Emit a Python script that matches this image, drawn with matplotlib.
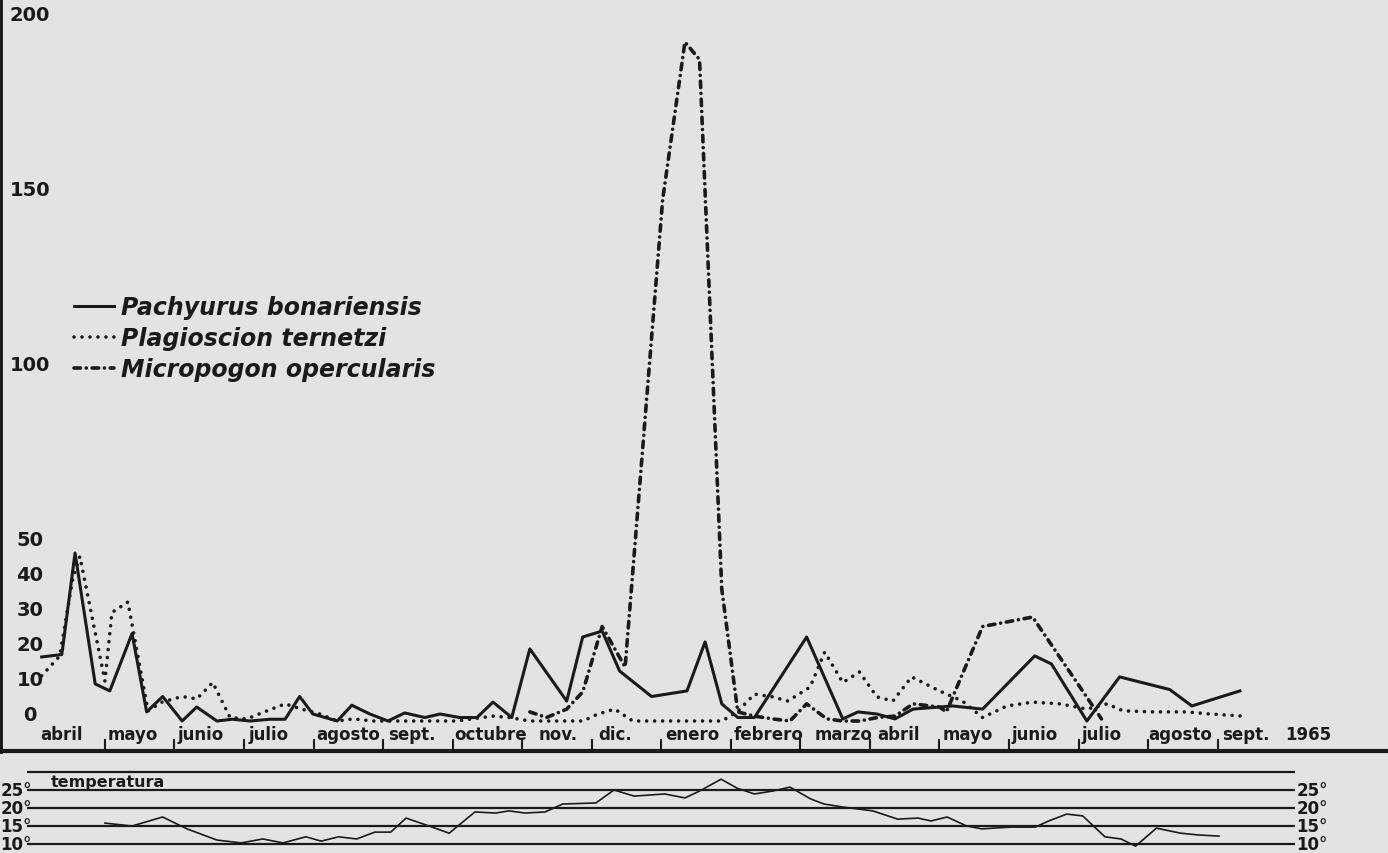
import matplotlib.pyplot as plt
from matplotlib.lines import Line2D

# eje x en meses contados desde el 1 de abril de 1964
meses = ['abril', 'mayo', 'junio', 'julio', 'agosto', 'sept.', 'octubre', 'nov.',
         'dic.', 'enero', 'febrero', 'marzo', 'abril', 'mayo', 'junio', 'julio',
         'agosto', 'sept.']
anio_final = '1965'

# Pachyurus bonariensis (linea llena)
pachy_mes = [0.09, 0.38, 0.57, 0.86, 1.07, 1.39, 1.60, 1.83, 2.11, 2.32, 2.61, 2.83,
             3.09, 3.37, 3.59, 3.80, 3.99, 4.34, 4.55, 4.81, 5.07, 5.31, 5.60, 5.82,
             6.10, 6.35, 6.58, 6.85, 7.11, 7.64, 7.87, 8.15, 8.40, 8.86, 9.37, 9.63,
             9.87, 10.10, 10.34, 11.09, 11.61, 11.83, 12.10, 12.36, 12.62, 13.19,
             13.62, 14.37, 14.61, 15.12, 15.59, 16.31, 16.63, 17.32]
pachy_val = [18.3, 19, 48, 10.6, 8.6, 25, 2.6, 7, 0, 4, 0, 0.5,
             0, 0.5, 0.5, 7, 2, 0, 4.5, 2, 0, 2.3, 1, 2,
             1, 1, 5.4, 1, 20.6, 5.7, 24, 25.7, 14.3, 7, 8.6, 22.6,
             4.9, 1, 1, 24, 0.6, 2.6, 2, 0.6, 3.4, 4.3,
             3.4, 18.6, 16.3, 0, 12.6, 9, 4.3, 8.6]

# Plagioscion ternetzi (punteada)
plagio_mes = [0.09, 0.35, 0.54, 0.64, 1.00, 1.10, 1.33, 1.62, 1.82, 2.11, 2.32, 2.55,
              2.80, 3.04, 3.33, 3.59, 3.83, 4.09, 4.34, 4.57, 4.85, 5.10, 5.43, 5.72,
              6.06, 6.58, 6.82, 7.11, 7.35, 7.87, 8.09, 8.33, 8.59, 8.98, 9.45, 9.87,
              10.09, 10.34, 10.60, 10.82, 11.14, 11.35, 11.61, 11.85, 12.10, 12.33,
              12.60, 13.00, 13.33, 13.62, 13.97, 14.34, 14.73, 15.12, 15.41, 15.64,
              16.07, 16.56, 16.89, 17.36]
plagio_val = [12.9, 18.6, 41, 47, 11.4, 31, 34, 2.9, 5.4, 7, 6.3, 11,
              1, 0.6, 2.9, 4.9, 3.4, 2, 0, 0.6, 0, 0, 0, 0,
              0, 1.4, 1, 0, 0, 0, 2, 3.4, 0, 0, 0, 0,
              2.6, 7.7, 6.9, 5.7, 9.7, 19.7, 11, 14, 6.9, 5.7,
              12.6, 8.6, 5.7, 1, 4.3, 5.4, 4.9, 3.4, 4.9, 2.9,
              2.6, 2.6, 2, 1.4]

# Micropogon opercularis (punto y raya)
micro_mes = [7.11, 7.35, 7.64, 7.87, 8.15, 8.48, 9.02, 9.34, 9.55, 9.87, 10.10,
             10.34, 10.60, 10.85, 11.09, 11.38, 11.61, 11.85, 12.11, 12.36, 12.62,
             13.00, 13.10, 13.62, 14.34, 15.33]
micro_val = [2.6, 1, 3.4, 8.3, 27, 15.4, 149, 194, 189, 37.7, 2.6,
             1.4, 0.6, 0, 4.9, 0.6, 0, 0, 1, 1.4, 4.9,
             4, 2.6, 27, 29.7, 0.6]

# temperatura del agua
temp_mes = [1.00, 1.39, 1.83, 2.18, 2.61, 2.96, 3.27, 3.56, 3.89, 4.11, 4.36, 4.62,
            4.88, 5.11, 5.33, 5.66, 5.95, 6.32, 6.62, 6.81, 7.04, 7.33, 7.58, 8.06,
            8.32, 8.61, 9.05, 9.34, 9.55, 9.86, 10.09, 10.34, 10.60, 10.85, 11.15,
            11.34, 11.60, 12.04, 12.40, 12.69, 12.88, 13.11, 13.39, 13.61, 14.03,
            14.38, 14.57, 14.83, 15.06, 15.38, 15.61, 15.82, 16.12, 16.47, 16.73, 17.02]
temp_val = [15.8, 15, 17.5, 14.2, 11.1, 10.3, 11.4, 10.3, 12, 10.8, 12, 11.4,
            13.3, 13.3, 17.2, 15, 13, 18.9, 18.6, 19.2, 18.6, 18.9, 21.1, 21.4,
            25, 23.3, 23.9, 22.8, 24.7, 28, 25.5, 23.9, 24.7, 25.8, 22.5,
            21.1, 20.3, 19.2, 16.9, 17.2, 16.4, 17.5, 15, 14.2, 14.7,
            14.7, 16.4, 18.3, 17.8, 12, 11.4, 9.4, 14.4, 13, 12.5, 12.2]

y_ticks = [0, 10, 20, 30, 40, 50, 100, 150, 200]
temp_lineas = [10, 15, 20, 25, 30]
temp_etiquetas = [10, 15, 20, 25]

especies = ['Pachyurus bonariensis', 'Plagioscion ternetzi', 'Micropogon opercularis']

# desplazamiento de cada nombre de mes respecto a su marca (en meses)
desplaz = [0.07, 0.04, 0.04, 0.07, 0.04, 0.07, 0.03, 0.23, 0.1, 0.06, 0.04, 0.2,
           0.1, 0.04, 0.04, 0.04, 0.0, 0.06]

NEGRO = '#1a1a1a'
estilo_punteado = dict(linestyle=(0, (0.01, 2.2)), linewidth=2.6,
                       dash_capstyle='round', color=NEGRO)
estilo_rayapunto = dict(linestyle=(0, (1.8, 1.6, 0.01, 1.6)), linewidth=2.6,
                        dash_capstyle='round', color=NEGRO)
estilo_lleno = dict(linestyle='-', linewidth=2.2, color=NEGRO)

fig = plt.figure(figsize=(13.88, 8.54), dpi=100, facecolor='#e3e3e3')
ax = fig.add_axes([0, 1 - 752 / 854, 1, 752 / 854])
ax.set_facecolor('none')

ax.plot(micro_mes, micro_val, **estilo_rayapunto)
ax.plot(plagio_mes, plagio_val, **estilo_punteado)
ax.plot(pachy_mes, pachy_val, **estilo_lleno)

ax.set_xlim(-0.509, 19.45)
ax.set_ylim(-8.57, 206.3)

for s in ['top', 'right']:
    ax.spines[s].set_visible(False)
ax.spines['left'].set_linewidth(3.5)
ax.spines['bottom'].set_linewidth(3)
ax.spines['left'].set_color(NEGRO)
ax.spines['bottom'].set_color(NEGRO)

ax.set_xticks(range(1, len(meses)))
ax.set_xticklabels([])
ax.tick_params(axis='x', direction='in', length=9, width=1.5, color=NEGRO)
ax.set_yticks([])

for i, m in enumerate(meses):
    ax.text(i + desplaz[i], -3.7, m, ha='left', va='center', fontsize=12,
            fontweight='bold', family='DejaVu Sans', color=NEGRO)
ax.text(len(meses) - 0.03, -3.7, anio_final, ha='left', va='center', fontsize=12,
        fontweight='bold', family='DejaVu Sans', color=NEGRO)

for v in y_ticks:
    ax.text(-0.08, v + 2, str(v), ha='center', va='center', fontsize=14,
            fontweight='bold', family='DejaVu Sans', color=NEGRO)

manijas = [Line2D([], [], **estilo_lleno), Line2D([], [], **estilo_punteado),
           Line2D([], [], **estilo_rayapunto)]
leg = ax.legend(manijas, especies, loc='upper left',
                bbox_to_anchor=(62 / 1388, 1 - 284 / 854),
                bbox_transform=fig.transFigure, frameon=False, borderpad=0,
                handlelength=1.7, handletextpad=0.3, labelspacing=0.3,
                prop=dict(family='DejaVu Sans', weight='bold', style='italic',
                          size=17))
for t in leg.get_texts():
    t.set_color(NEGRO)

# panel de temperatura
axt = fig.add_axes([0, 0, 1, 1 - 752 / 854])
axt.set_facecolor('none')
axt.set_xlim(-0.509, 19.45)
axt.set_ylim(7.5, 35.83)
axt.axis('off')
axt.hlines(temp_lineas, -0.12, 18.11, color=NEGRO, linewidth=1.6)
axt.plot(temp_mes, temp_val, color=NEGRO, linewidth=1.2)
for t in temp_etiquetas:
    axt.text(-0.5, t, f'{t}°', ha='left', va='center', fontsize=12,
             fontweight='bold', family='DejaVu Sans', color=NEGRO)
    axt.text(18.13, t, f'{t}°', ha='left', va='center', fontsize=12,
             fontweight='bold', family='DejaVu Sans', color=NEGRO)
axt.text(0.22, 25.4, 'temperatura', ha='left', va='bottom', fontsize=11.5,
         fontweight='bold', family='DejaVu Sans', color=NEGRO)

fig.savefig('out.png', dpi=100, facecolor=fig.get_facecolor())
